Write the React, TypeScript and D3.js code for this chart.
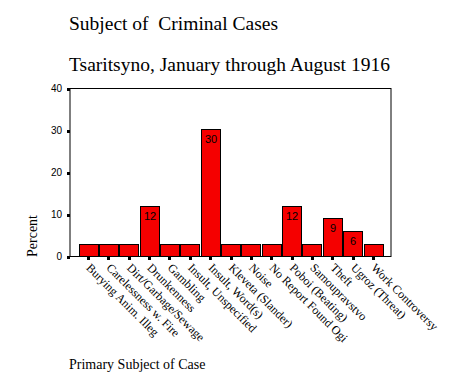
import React from "react";
import * as d3 from "d3";

const categories = [
  "Burying Anim. Illeg",
  "Carelessness w. Fire",
  "Dirt/Garbage/Sewage",
  "Drunkenness",
  "Gambling",
  "Insult, Unspecified",
  "Insult, Word(s)",
  "Kleveta (Slander)",
  "Noise",
  "No Report Found Ogi",
  "Poboi (Beating)",
  "Samoupravstvo",
  "Theft",
  "Ugroz (Threat)",
  "Work Controversy",
];
const percents = [3.0, 3.0, 3.0, 12.1, 3.0, 3.0, 30.3, 3.0, 3.0, 3.0, 12.1, 3.0, 9.1, 6.1, 3.0];
const barLabels = ["", "", "", "12", "", "", "30", "", "", "", "12", "", "9", "6", ""];
const yTicks = [0, 10, 20, 30, 40];

const W = 473;
const H = 378;
const left = 70;
const right = 391;
const top = 88.5;
const bottom = 256.5;

export default function App() {
  const x = d3
    .scaleBand<string>()
    .domain(categories)
    .range([left, right])
    .paddingInner(0.07)
    .paddingOuter(0.42);
  const y = d3.scaleLinear().domain([0, 40]).range([bottom, top]);
  const bw = x.bandwidth();
  const serif = "'Liberation Serif', 'Times New Roman', serif";
  const sans = "'Liberation Sans', Arial, sans-serif";

  return (
    <svg
      width={W}
      height={H}
      style={{ position: "absolute", left: 0, top: 0, background: "#fff" }}
    >
      <rect x={0} y={0} width={W} height={H} fill="#fff" />
      <text x={69} y={30} fontFamily={serif} fontSize={19.5} fill="#000">
        Subject of{"\u00a0"} Criminal Cases
      </text>
      <text x={69} y={70.5} fontFamily={serif} fontSize={19.5} fill="#000">
        Tsaritsyno, January through August 1916
      </text>

      {/* bars */}
      {categories.map((c, i) => {
        const x0 = Math.round(x(c)!) + 0.5;
        const w = Math.round(bw);
        const yt = Math.round(y(percents[i])) + 0.5;
        return (
          <g key={c}>
            <rect
              x={x0}
              y={yt}
              width={w}
              height={bottom - yt}
              fill="#f50000"
              stroke="#000"
              strokeWidth={1}
            />
            {barLabels[i] && (
              <text
                x={x0 + w / 2}
                y={yt + 13}
                textAnchor="middle"
                fontFamily={sans}
                fontSize={11}
                fill="#000"
              >
                {barLabels[i]}
              </text>
            )}
          </g>
        );
      })}

      {/* frame */}
      <rect
        x={left}
        y={top}
        width={right - left}
        height={bottom - top}
        fill="none"
        stroke="#000"
        strokeWidth={1}
      />

      {/* y ticks */}
      {yTicks.map((t) => (
        <g key={t}>
          <rect x={left - 3} y={Math.round(y(t)) - 1} width={3} height={3} fill="#000" />
          <text
            x={62}
            y={y(t) + 3.5}
            textAnchor="end"
            fontFamily={sans}
            fontSize={10}
            fill="#000"
          >
            {t}
          </text>
        </g>
      ))}

      {/* x ticks and labels */}
      {categories.map((c) => {
        const cx = x(c)! + bw / 2;
        return (
          <g key={"t" + c}>
            <rect x={Math.round(cx) - 1} y={bottom + 0.5} width={3} height={3} fill="#000" />
            <text
              transform={`translate(${cx - 2.5},${bottom + 12}) rotate(45)`}
              x={0}
              y={0}
              fontFamily={serif}
              fontSize={12}
              fill="#000"
            >
              {c}
            </text>
          </g>
        );
      })}

      <text
        transform={`translate(37,236) rotate(-90)`}
        textAnchor="middle"
        fontFamily={serif}
        fontSize={14}
        fill="#000"
      >
        Percent
      </text>

      <text x={69} y={369} fontFamily={serif} fontSize={14} fill="#000">
        Primary Subject of Case
      </text>
    </svg>
  );
}
